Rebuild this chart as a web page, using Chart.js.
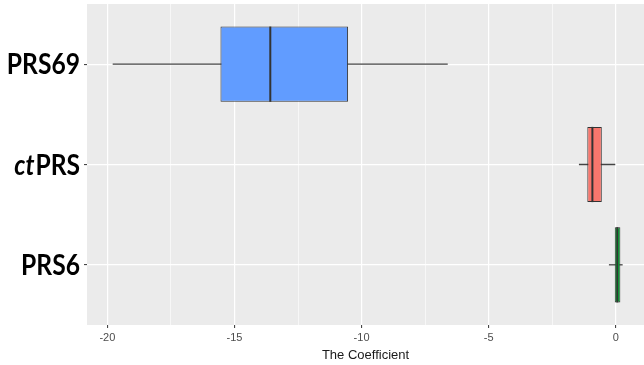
<!DOCTYPE html>
<html>
<head>
<meta charset="utf-8">
<script src="https://cdn.jsdelivr.net/npm/chart.js@4.4.1/dist/chart.umd.min.js"></script>
<style>
  html, body { margin: 0; padding: 0; background: #ffffff; }
  canvas { display: block; }
</style>
</head>
<body>
<canvas id="chart" width="644" height="365"></canvas>
<script>
// Score names, top to bottom; the "ct" prefix of the second one is set in italics
const categories = ['PRS69', 'ctPRS', 'PRS6'];
const italicPrefix = ['', 'ct', ''];

// Five-number summaries of the coefficient for each score
const whiskerLow  = [-19.79, -1.45, -0.27];
const q1          = [-15.55, -1.12, -0.04];
const median      = [-13.59, -0.92,  0.06];
const q3          = [-10.53, -0.55,  0.18];
const whiskerHigh = [ -6.61, -0.02,  0.27];

const boxColors = ['#619CFF', '#F8766D', '#00BA38'];

// Axis ticks: labelled majors and unlabelled minors
const majorTicks = [-20, -15, -10, -5, 0];
const minorTicks = [-17.5, -12.5, -7.5, -2.5];

const rowPos = categories.map((_, i) => i + 1);
const BOX_HALF = 0.375;

const panelPlugin = {
  id: 'panel',
  beforeDraw(chart) {
    const { ctx, chartArea: a } = chart;
    ctx.save();
    ctx.fillStyle = '#EBEBEB';
    ctx.fillRect(a.left, a.top, a.right - a.left, a.bottom - a.top);
    ctx.restore();
  }
};

const boxPartsPlugin = {
  id: 'boxParts',
  beforeDatasetsDraw(chart) {
    const { ctx, scales: { x, y } } = chart;
    ctx.save();
    ctx.strokeStyle = '#444444';
    ctx.lineWidth = 1.3;
    rowPos.forEach((p, i) => {
      const py = y.getPixelForValue(p);
      ctx.beginPath();
      ctx.moveTo(x.getPixelForValue(whiskerLow[i]), py);
      ctx.lineTo(x.getPixelForValue(whiskerHigh[i]), py);
      ctx.stroke();
    });
    ctx.restore();
  },
  afterDatasetsDraw(chart) {
    const { ctx, scales: { x, y } } = chart;
    ctx.save();
    ctx.strokeStyle = '#333333';
    ctx.lineWidth = 2;
    rowPos.forEach((p, i) => {
      const px = x.getPixelForValue(median[i]);
      ctx.beginPath();
      ctx.moveTo(px, y.getPixelForValue(p - BOX_HALF));
      ctx.lineTo(px, y.getPixelForValue(p + BOX_HALF));
      ctx.stroke();
    });
    ctx.restore();
  }
};

// Row labels drawn next to the y scale ticks, with a mixed italic prefix
const rowLabelPlugin = {
  id: 'rowLabels',
  afterDraw(chart) {
    const { ctx, chartArea: a, scales: { y } } = chart;
    const squeeze = 0.88;
    const rightEdge = a.left - 7;
    ctx.save();
    ctx.fillStyle = '#000000';
    ctx.textBaseline = 'middle';
    ctx.textAlign = 'right';
    categories.forEach((name, i) => {
      const py = y.getPixelForValue(rowPos[i]) + 1;
      const prefix = italicPrefix[i];
      const rest = name.slice(prefix.length);
      ctx.save();
      ctx.translate(rightEdge, py);
      ctx.scale(squeeze, 1);
      ctx.font = 'bold 28px Lato, "Open Sans", sans-serif';
      ctx.fillText(rest, 0, 0);
      if (prefix) {
        const w = ctx.measureText(rest).width;
        ctx.font = 'italic bold 28px Lato, "Open Sans", sans-serif';
        ctx.fillText(prefix, -w - 1, 0);
      }
      ctx.restore();
    });
    ctx.restore();
  }
};

new Chart(document.getElementById('chart'), {
  type: 'bar',
  data: {
    datasets: [{
      data: rowPos.map((p, i) => ({ x: [q1[i], q3[i]], y: p })),
      backgroundColor: boxColors,
      borderColor: '#333333',
      borderWidth: 1,
      borderSkipped: false,
      barPercentage: 0.75,
      categoryPercentage: 1
    }]
  },
  options: {
    indexAxis: 'y',
    responsive: false,
    animation: false,
    events: [],
    layout: { padding: { top: 4, right: 0, left: 0, bottom: 0 } },
    plugins: {
      legend: { display: false },
      tooltip: { enabled: false }
    },
    scales: {
      x: {
        type: 'linear',
        position: 'bottom',
        offset: false,
        min: -20.8,
        max: 1.11,
        afterBuildTicks(s) {
          s.ticks = majorTicks.concat(minorTicks).sort((a, b) => a - b).map(v => ({ value: v }));
        },
        afterFit(s) { s.height = 40; },
        border: { display: false },
        grid: {
          offset: false,
          color: '#FFFFFF',
          lineWidth: c => majorTicks.includes(c.tick.value) ? 1.2 : 0.6,
          tickColor: c => majorTicks.includes(c.tick.value) ? '#333333' : 'rgba(0,0,0,0)',
          tickWidth: 1,
          tickLength: 3
        },
        ticks: {
          autoSkip: false,
          maxRotation: 0,
          padding: 3,
          color: '#4D4D4D',
          font: { family: '"Liberation Sans", Arial, sans-serif', size: 11 },
          callback: v => majorTicks.includes(v) ? String(v) : ''
        },
        title: {
          display: true,
          text: 'The Coefficient',
          color: '#1A1A1A',
          font: { family: '"Liberation Sans", Arial, sans-serif', size: 13 },
          padding: { top: 0, bottom: 2 }
        }
      },
      y: {
        type: 'linear',
        reverse: true,
        offset: false,
        min: 0.4,
        max: 3.6,
        afterBuildTicks(s) { s.ticks = rowPos.map(v => ({ value: v })); },
        afterFit(s) { s.width = 87; },
        border: { display: false },
        grid: {
          offset: false,
          color: '#FFFFFF',
          lineWidth: 1.2,
          tickColor: '#333333',
          tickWidth: 1,
          tickLength: 3
        },
        ticks: { display: false }
      }
    }
  },
  plugins: [panelPlugin, boxPartsPlugin, rowLabelPlugin]
});
</script>
</body>
</html>
